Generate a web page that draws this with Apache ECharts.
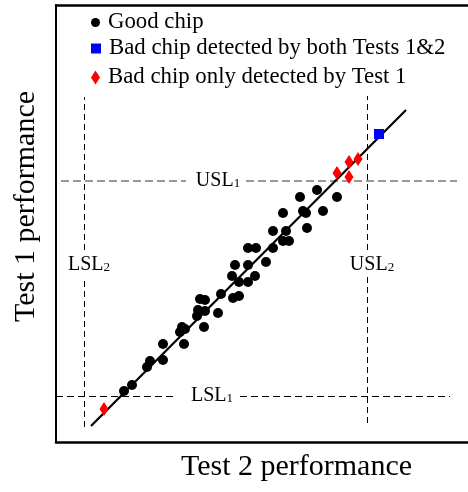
<!DOCTYPE html>
<html>
<head>
<meta charset="utf-8">
<script src="https://cdn.jsdelivr.net/npm/echarts@6/dist/echarts.min.js"></script>
<style>
  html, body { margin: 0; padding: 0; background: #fff; }
  #container { width: 468px; height: 492px; }
</style>
</head>
<body>
<div id="container"></div>
<script>
// chip data (arbitrary performance units)
let goodX = [244,261,281,227,247,250,267,217,230,251,227,233,217,192,200,210,192,179,176,199,183,192,165,177,183,144,149,142,149,162,141,148,126,129,124,107,128,94,91,107,76,68];
let goodY = [245,252,245,229,231,229,231,211,211,214,201,201,194,194,194,180,177,177,166,166,160,160,148,144,146,143,142,132,131,129,126,115,115,113,110,98,98,81,75,82,57,51];
let bothX = [323];
let bothY = [308];
let onlyX = [281,293,302,293,48];
let onlyY = [269,280,283,265,33];
let fitX = [35,350];
let fitY = [16,332];

// spec limits
let usl1 = 261, lsl1 = 46;
let lsl2 = 28, usl2 = 311;
// dashed segments, broken where the label sits
let usl1Segs = [[5,130],[190,401]];
let lsl1Segs = [[0,121],[184,394]];
let lsl2Segs = [[15,165],[192,345]];
let usl2Segs = [[19,165],[192,346]];
let limitLabels = [
    ['USL','1',162,usl1],
    ['LSL','1',156,lsl1],
    ['LSL','2',lsl2 + 5,177],
    ['USL','2',usl2 + 5,177]
];

let legendNames = ['Good chip','Bad chip detected by both Tests 1&2','Bad chip only detected by Test 1'];
let font = 'Liberation Serif, Times New Roman, serif';

function pairs(xs, ys) {
    let out = [];
    for(let i = 0; i < xs.length; i++) {
        out.push([xs[i], ys[i]]);
    }
    return out;
}

function hSegs(segs, y) {
    return segs.map(function(s) { return {coords: [[s[0], y], [s[1], y]]}; });
}
function vSegs(segs, x) {
    return segs.map(function(s) { return {coords: [[x, s[0]], [x, s[1]]]}; });
}

let dom = document.getElementById('container');
let myChart = echarts.init(dom, null, {renderer: 'canvas'});

let legendCommon = {
    orient: 'vertical',
    padding: 0,
    selectedMode: false,
    textStyle: {fontFamily: font, fontSize: 22.8, color: '#000', padding: [0,0,0,3]}
};

let option = {
    animation: false,
    backgroundColor: '#fff',
    grid: {left: 56, right: 0, top: 5, bottom: 50},
    legend: [
        Object.assign({}, legendCommon, {data: [legendNames[0]], icon: 'circle', itemWidth: 9, itemHeight: 9, left: 91, top: 11}),
        Object.assign({}, legendCommon, {data: [legendNames[1]], icon: 'rect', itemWidth: 10, itemHeight: 10, left: 91, top: 37}),
        Object.assign({}, legendCommon, {data: [legendNames[2]], icon: 'diamond', itemWidth: 9, itemHeight: 14, left: 91, top: 66})
    ],
    xAxis: [{
        type: 'value', min: 0, max: 412,
        name: 'Test 2 performance', nameLocation: 'middle', nameGap: 10,
        nameTextStyle: {fontFamily: font, fontSize: 30, color: '#000', padding: [0,0,0,69]},
        axisLine: {show: true, lineStyle: {color: '#000', width: 2.5}},
        axisTick: {show: false}, axisLabel: {show: false}, splitLine: {show: false}
    }, {
        type: 'value', min: 0, max: 412, position: 'top',
        axisLine: {show: true, lineStyle: {color: '#000', width: 2.5}},
        axisTick: {show: false}, axisLabel: {show: false}, splitLine: {show: false}
    }],
    yAxis: {
        type: 'value', min: 0, max: 437,
        name: 'Test 1 performance', nameLocation: 'middle', nameGap: 15,
        nameTextStyle: {fontFamily: font, fontSize: 30, color: '#000', padding: [0,0,0,34]},
        axisLine: {show: true, lineStyle: {color: '#000', width: 2}},
        axisTick: {show: false}, axisLabel: {show: false}, splitLine: {show: false}
    },
    series: [
        {
            type: 'lines', coordinateSystem: 'cartesian2d', silent: true,
            lineStyle: {color: '#777', width: 1.5, type: [8,4], opacity: 1},
            data: hSegs(usl1Segs, usl1)
        },
        {
            type: 'lines', coordinateSystem: 'cartesian2d', silent: true,
            lineStyle: {color: '#000', width: 1, type: [7,4], opacity: 1},
            data: hSegs(lsl1Segs, lsl1)
        },
        {
            type: 'lines', coordinateSystem: 'cartesian2d', silent: true,
            lineStyle: {color: '#000', width: 1, type: [6,4], opacity: 1},
            data: vSegs(lsl2Segs, lsl2).concat(vSegs(usl2Segs, usl2))
        },
        {
            type: 'scatter', silent: true, symbolSize: 0,
            itemStyle: {opacity: 1},
            data: limitLabels.map(function(l) { return {value: [l[2], l[3]], name: l[0], sub: l[1]}; }),
            label: {
                show: true, position: 'inside', color: '#000', opacity: 1,
                formatter: function(p) { return '{a|' + p.data.name + '}{b|' + p.data.sub + '}'; },
                rich: {
                    a: {fontFamily: font, fontSize: 20, color: '#000', verticalAlign: 'bottom'},
                    b: {fontFamily: font, fontSize: 13, color: '#000', verticalAlign: 'bottom', padding: [0,0,1,0]}
                }
            }
        },
        {
            type: 'line', silent: true, symbol: 'none',
            lineStyle: {color: '#000', width: 2.2},
            data: pairs(fitX, fitY), z: 3
        },
        {
            name: legendNames[0], type: 'scatter', symbol: 'circle', symbolSize: 10,
            itemStyle: {color: '#000', opacity: 1},
            data: pairs(goodX, goodY), z: 4
        },
        {
            name: legendNames[1], type: 'scatter', symbol: 'rect', symbolSize: 10,
            itemStyle: {color: '#0000ff', opacity: 1},
            data: pairs(bothX, bothY), z: 4
        },
        {
            name: legendNames[2], type: 'scatter', symbol: 'diamond', symbolSize: [9,14],
            itemStyle: {color: '#ff0000', opacity: 1},
            data: pairs(onlyX, onlyY), z: 4
        }
    ]
};

if (option && typeof option === "object") {
    myChart.setOption(option, true);
}
</script>
</body>
</html>
